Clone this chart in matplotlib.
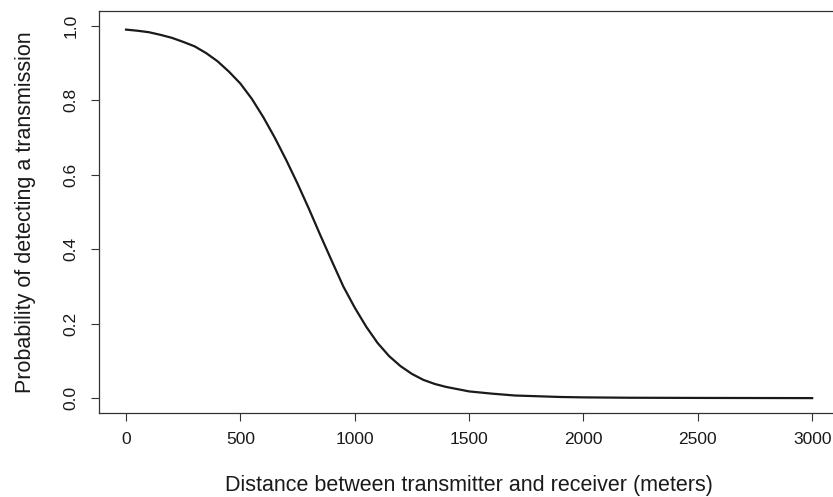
import matplotlib
matplotlib.use('Agg')
import matplotlib.pyplot as plt

# Values
distance = [0, 50, 100, 150, 200, 250, 300, 350, 400, 450, 500, 550, 600, 650,
            700, 750, 800, 850, 900, 950, 1000, 1050, 1100, 1150, 1200, 1250,
            1300, 1350, 1400, 1500, 1600, 1700, 1800, 1900, 2000, 2200, 2500, 3000]
prob = [0.990, 0.987, 0.983, 0.976, 0.968, 0.957, 0.945, 0.927, 0.905, 0.877,
        0.845, 0.804, 0.755, 0.700, 0.640, 0.576, 0.508, 0.437, 0.368, 0.300,
        0.243, 0.192, 0.148, 0.113, 0.086, 0.065, 0.049, 0.038, 0.030, 0.018,
        0.012, 0.007, 0.005, 0.003, 0.002, 0.001, 0.0005, 0.0]

x_ticks = [0, 500, 1000, 1500, 2000, 2500, 3000]
y_ticks = [0.0, 0.2, 0.4, 0.6, 0.8, 1.0]

plt.rcParams['font.family'] = ['Liberation Sans', 'DejaVu Sans']

fig = plt.figure(figsize=(8.33, 4.97), dpi=100)
ax = fig.add_axes([98.6 / 833, 84 / 497, 741 / 833, 402 / 497])

ax.plot(distance, prob, color='#1a1a1a', linewidth=1.6)

# R-style axis ranges (4% padding)
ax.set_xlim(-120, 3120)
ax.set_ylim(-0.04, 1.04)

ax.set_xticks(x_ticks)
ax.set_xticklabels([str(t) for t in x_ticks])
ax.set_yticks(y_ticks)
ax.set_yticklabels(['%.1f' % t for t in y_ticks], rotation=90, va='center')

ax.tick_params(axis='both', direction='out', length=5.5, width=0.8,
               color='#333333', labelsize=12.5, labelcolor='#1a1a1a')
ax.tick_params(axis='x', pad=8)
ax.tick_params(axis='y', pad=9)

for s in ax.spines.values():
    s.set_color('#333333')
    s.set_linewidth(0.9)

ax.set_xlabel('Distance between transmitter and receiver (meters)',
              fontsize=15.5, color='#1a1a1a', labelpad=20)
ax.set_ylabel('Probability of detecting a transmission',
              fontsize=15.5, color='#1a1a1a', labelpad=20)

fig.savefig('out.png', dpi=100)
